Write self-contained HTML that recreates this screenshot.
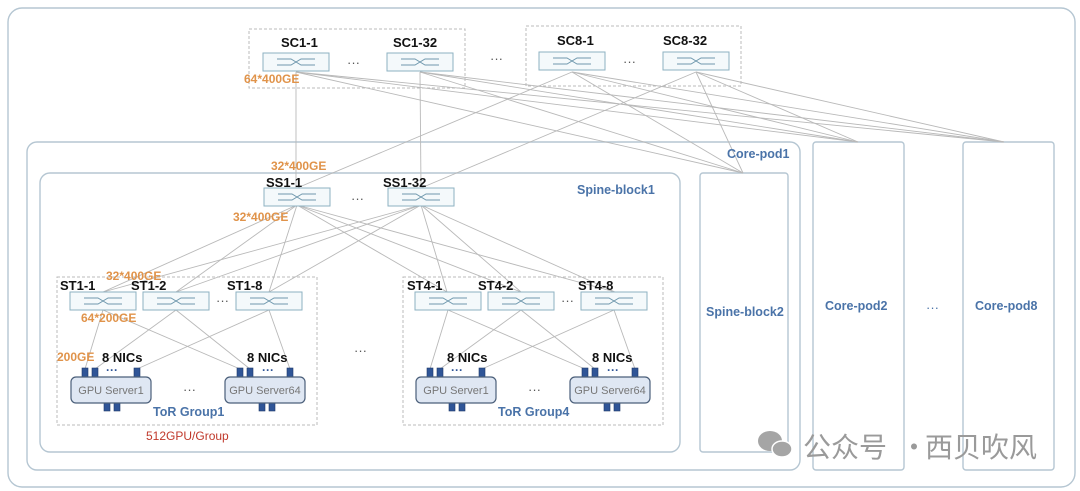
<!DOCTYPE html>
<html><head><meta charset="utf-8"><style>
html,body{margin:0;padding:0;background:#fff;}
svg{display:block;font-family:"Liberation Sans","Noto Sans CJK SC",sans-serif;}
.b{font-weight:bold;font-size:13px;fill:#111;}
.o{font-size:12px;fill:#e0934a;font-weight:bold;}
.bl{font-weight:bold;font-size:12.5px;fill:#4a73a8;}
.ln line{stroke:#b9b9b9;stroke-width:0.9;}
</style></head><body>
<svg width="1080" height="491" viewBox="0 0 1080 491">
<defs>
<g id="sw">
<rect x="0" y="0" width="66" height="18" fill="#f4f9fb" stroke="#8db1c2" stroke-width="1"/>
<path d="M14 6 H28 L38 12 H52 M14 12 H28 L38 6 H52" stroke="#6f98ad" stroke-width="0.9" fill="none"/>
</g>
<g id="srv">
<rect x="0" y="0" width="80" height="26" rx="5" fill="#dfe7f3" stroke="#4b5f7a" stroke-width="1.2"/>
</g>
</defs>
<rect x="8" y="8" width="1067" height="479" rx="14" fill="none" stroke="#b5c6d2" stroke-width="1.4"/>
<rect x="27" y="142" width="773" height="328" rx="10" fill="none" stroke="#b5c6d2" stroke-width="1.4"/>
<rect x="40" y="173" width="640" height="279" rx="10" fill="none" stroke="#b5c6d2" stroke-width="1.4"/>
<rect x="700" y="173" width="88" height="279" rx="3" fill="none" stroke="#b5c6d2" stroke-width="1.4"/>
<rect x="813" y="142" width="91" height="328" rx="3" fill="none" stroke="#b5c6d2" stroke-width="1.4"/>
<rect x="963" y="142" width="91" height="328" rx="3" fill="none" stroke="#b5c6d2" stroke-width="1.4"/>
<rect x="249" y="29" width="216" height="59" fill="none" stroke="#bbb" stroke-dasharray="3,2"/>
<rect x="526" y="26" width="215" height="60" fill="none" stroke="#bbb" stroke-dasharray="3,2"/>
<rect x="57" y="277" width="260" height="148" fill="none" stroke="#bbb" stroke-dasharray="3,2"/>
<rect x="403" y="277" width="260" height="148" fill="none" stroke="#bbb" stroke-dasharray="3,2"/>

<g class="ln">
<line x1="296" y1="72" x2="296" y2="188"/>
<line x1="420" y1="72" x2="421" y2="188"/>
<line x1="572" y1="72" x2="297" y2="188"/>
<line x1="696" y1="72" x2="421" y2="188"/>
<line x1="296" y1="72" x2="743" y2="173"/><line x1="296" y1="72" x2="858" y2="142"/><line x1="296" y1="72" x2="1004" y2="142"/>
<line x1="420" y1="72" x2="743" y2="173"/><line x1="420" y1="72" x2="858" y2="142"/><line x1="420" y1="72" x2="1004" y2="142"/>
<line x1="572" y1="72" x2="743" y2="173"/><line x1="572" y1="72" x2="858" y2="142"/><line x1="572" y1="72" x2="1004" y2="142"/>
<line x1="696" y1="72" x2="743" y2="173"/><line x1="696" y1="72" x2="858" y2="142"/><line x1="696" y1="72" x2="1004" y2="142"/>
<line x1="297" y1="205" x2="103" y2="292"/><line x1="297" y1="205" x2="176" y2="292"/><line x1="297" y1="205" x2="269" y2="292"/>
<line x1="297" y1="205" x2="447" y2="292"/><line x1="297" y1="205" x2="521" y2="292"/><line x1="297" y1="205" x2="615" y2="292"/>
<line x1="421" y1="205" x2="103" y2="292"/><line x1="421" y1="205" x2="176" y2="292"/><line x1="421" y1="205" x2="269" y2="292"/>
<line x1="421" y1="205" x2="447" y2="292"/><line x1="421" y1="205" x2="521" y2="292"/><line x1="421" y1="205" x2="615" y2="292"/>
<g id="stl">
<line x1="103" y1="310" x2="85" y2="369"/><line x1="103" y1="310" x2="240" y2="369"/>
<line x1="176" y1="310" x2="95" y2="369"/><line x1="176" y1="310" x2="250" y2="369"/>
<line x1="269" y1="310" x2="137" y2="369"/><line x1="269" y1="310" x2="290" y2="369"/>
</g>
<use href="#stl" transform="translate(345,0)"/>
</g>

<text class="b" x="281" y="47">SC1-1</text>
<text class="b" x="393" y="47">SC1-32</text>
<use href="#sw" x="263" y="53"/><use href="#sw" x="387" y="53"/>
<text x="347" y="67" font-size="13" fill="#555">···</text>
<text x="490" y="63" font-size="13" fill="#555">···</text>
<text class="b" x="557" y="45">SC8-1</text>
<text class="b" x="663" y="45">SC8-32</text>
<use href="#sw" x="539" y="52"/><use href="#sw" x="663" y="52"/>
<text x="623" y="66" font-size="13" fill="#555">···</text>
<text class="o" x="244" y="83">64*400GE</text>

<text class="bl" x="727" y="158">Core-pod1</text>
<text class="bl" x="577" y="194">Spine-block1</text>
<text class="bl" x="706" y="316">Spine-block2</text>
<text class="bl" x="825" y="310">Core-pod2</text>
<text class="bl" x="975" y="310">Core-pod8</text>
<text x="926" y="312" font-size="13" fill="#4a73a8">···</text>

<text class="o" x="271" y="170">32*400GE</text>
<text class="b" x="266" y="187">SS1-1</text>
<text class="b" x="383" y="187">SS1-32</text>
<use href="#sw" x="264" y="188"/><use href="#sw" x="388" y="188"/>
<text x="351" y="203" font-size="13" fill="#555">···</text>
<text class="o" x="233" y="221">32*400GE</text>
<text x="354" y="355" font-size="13" fill="#555">···</text>

<g id="tor">
<use href="#sw" x="70" y="292"/><use href="#sw" x="143" y="292"/><use href="#sw" x="236" y="292"/>
<text x="216" y="305" font-size="13" fill="#555">···</text>
<text class="b" x="102" y="362">8 NICs</text>
<text class="b" x="247" y="362">8 NICs</text>
<g fill="#2f5597" stroke="#1f3a6a" stroke-width="0.6">
<rect x="82" y="368" width="6" height="9"/><rect x="92" y="368" width="6" height="9"/><rect x="134" y="368" width="6" height="9"/>
<rect x="104" y="403" width="6" height="8"/><rect x="114" y="403" width="6" height="8"/>
<rect x="237" y="368" width="6" height="9"/><rect x="247" y="368" width="6" height="9"/><rect x="287" y="368" width="6" height="9"/>
<rect x="259" y="403" width="6" height="8"/><rect x="269" y="403" width="6" height="8"/>
</g>
<text x="106" y="374" font-size="12" fill="#2f5597" font-weight="bold">···</text>
<text x="262" y="374" font-size="12" fill="#2f5597" font-weight="bold">···</text>
<use href="#srv" x="71" y="377"/>
<use href="#srv" x="225" y="377"/>
<text x="111" y="394" font-size="11" fill="#777" text-anchor="middle">GPU Server1</text>
<text x="265" y="394" font-size="11" fill="#777" text-anchor="middle">GPU Server64</text>
<text x="183" y="394" font-size="13" fill="#555">···</text>
</g>
<use href="#tor" transform="translate(345,0)"/>
<text class="b" x="60" y="290">ST1-1</text>
<text class="b" x="131" y="290">ST1-2</text>
<text class="b" x="227" y="290">ST1-8</text>
<text class="b" x="407" y="290">ST4-1</text>
<text class="b" x="478" y="290">ST4-2</text>
<text class="b" x="578" y="290">ST4-8</text>
<text class="o" x="106" y="280">32*400GE</text>
<text class="o" x="81" y="322">64*200GE</text>
<text class="o" x="57" y="361">200GE</text>
<text class="bl" x="153" y="416">ToR Group1</text>
<text class="bl" x="498" y="416">ToR Group4</text>
<text x="146" y="440" font-size="12" fill="#c0392b">512GPU/Group</text>

<g fill="#a5a5a5">
<ellipse cx="770" cy="441" rx="12" ry="10"/>
<ellipse cx="782" cy="449" rx="10" ry="8" stroke="#fff" stroke-width="1.5"/>
</g>
<g font-size="28" fill="#9a9a9a" font-family="'Noto Sans CJK SC',sans-serif">
<text x="803" y="457">公众号</text>
<text x="900" y="457">·</text>
<text x="925" y="457">西贝吹风</text>
</g>
</svg>
</body></html>
